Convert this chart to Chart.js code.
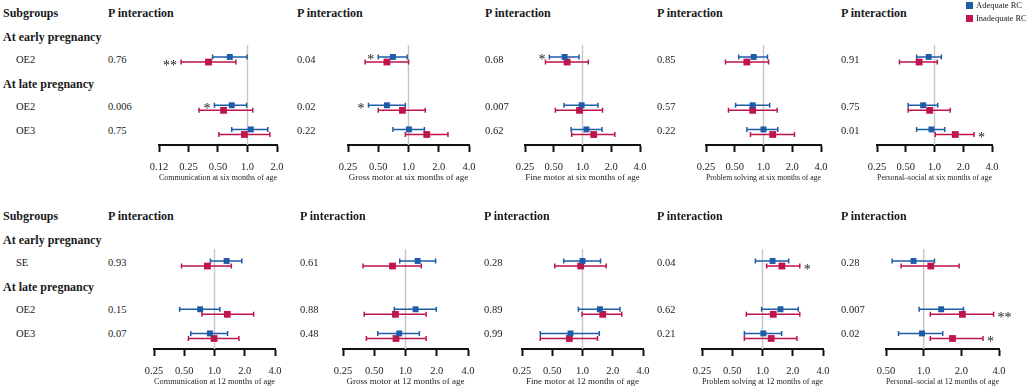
<!DOCTYPE html>
<html>
<head>
<meta charset="utf-8">
<script src="https://cdn.jsdelivr.net/npm/chart.js@4.4.1/dist/chart.umd.min.js"></script>
<style>
  body { margin: 0; width: 1026px; height: 390px; position: relative; overflow: hidden; background: #fff;
         font-family: "Liberation Serif", "Times New Roman", serif; color: #1a1a1a; }
  .txt { position: absolute; white-space: nowrap; transform: translateY(-50%); line-height: 1; }
  .hd { font-weight: bold; font-size: 12px; }
  .val { font-size: 10.5px; }
  .lg { font-size: 8.5px; }
  canvas { position: absolute; }
</style>
</head>
<body>
<script>
const ADEQ = '#1f5ca8';
const INAD = '#c0154c';

const tickValues = [0.125, 0.25, 0.5, 1, 2, 4];
const tickLabels = ['0.12', '0.25', '0.50', '1.0', '2.0', '4.0'];
const rowPos = [2, 4, 5];               // table row of each subgroup line

const groupsSix = ['OE2', 'OE2', 'OE3'];
const groupsTwelve = ['SE', 'OE2', 'OE3'];

const titlesSix = ['Communication at six months of age', 'Gross motor at six months of age',
  'Fine motor at six months of age', 'Problem solving at six months of age', 'Personal\u2013social at six months of age'];
const titlesTwelve = ['Communication at 12 months of age', 'Gross motor at 12 months of age',
  'Fine motor at 12 months of age', 'Problem solving at 12 months of age', 'Personal\u2013social at 12 months of age'];

const rangesSix = [[0.125, 2], [0.25, 4], [0.25, 4], [0.25, 4], [0.25, 4]];
const rangesTwelve = [[0.25, 4], [0.25, 4], [0.25, 4], [0.25, 4], [0.5, 4]];

const pSix = [['0.76', '0.006', '0.75'], ['0.04', '0.02', '0.22'], ['0.68', '0.007', '0.62'], ['0.85', '0.57', '0.22'], ['0.91', '0.75', '0.01']];
const pTwelve = [['0.93', '0.15', '0.07'], ['0.61', '0.88', '0.48'], ['0.28', '0.89', '0.99'], ['0.04', '0.62', '0.21'], ['0.28', '0.007', '0.02']];

// six months: adequate RC
const adqSix = [[0.66, 0.69, 1.08], [0.70, 0.61, 1.01], [0.65, 0.98, 1.10], [0.79, 0.77, 1.00], [0.87, 0.76, 0.93]];
const adqSixLo = [[0.44, 0.46, 0.69], [0.50, 0.40, 0.70], [0.45, 0.64, 0.76], [0.55, 0.51, 0.67], [0.65, 0.53, 0.65]];
const adqSixHi = [[0.99, 0.98, 1.61], [0.97, 0.93, 1.44], [0.92, 1.45, 1.60], [1.10, 1.16, 1.41], [1.18, 1.08, 1.28]];
const adqSixStars = [['', '*', ''], ['*', '*', ''], ['*', '', ''], ['', '', ''], ['', '', '']];
// six months: inadequate RC
const inSix = [[0.40, 0.57, 0.93], [0.61, 0.87, 1.52], [0.69, 0.93, 1.31], [0.67, 0.77, 1.25], [0.69, 0.89, 1.65]];
const inSixLo = [[0.21, 0.32, 0.51], [0.37, 0.50, 0.93], [0.41, 0.52, 0.77], [0.40, 0.43, 0.73], [0.43, 0.53, 1.02]];
const inSixHi = [[0.76, 1.13, 1.69], [1.00, 1.47, 2.47], [1.15, 1.62, 2.18], [1.13, 1.39, 2.11], [1.07, 1.46, 2.59]];
const inSixStars = [['**', '', ''], ['', '', ''], ['', '', ''], ['', '', ''], ['', '', '*']];

// 12 months: adequate RC
const adqTwelve = [[1.32, 0.72, 0.90], [1.31, 1.25, 0.87], [1.00, 1.49, 0.76], [1.26, 1.51, 1.02], [0.83, 1.38, 0.97]];
const adqTwelveLo = [[0.91, 0.45, 0.58], [0.88, 0.78, 0.54], [0.65, 0.91, 0.38], [0.85, 0.98, 0.66], [0.56, 0.92, 0.63]];
const adqTwelveHi = [[1.87, 1.13, 1.35], [1.95, 1.98, 1.36], [1.51, 2.36, 1.47], [1.82, 2.27, 1.55], [1.22, 2.08, 1.42]];
const adqTwelveStars = [['', '', ''], ['', '', ''], ['', '', ''], ['', '', ''], ['', '', '']];
// 12 months: inadequate RC
const inTwelve = [[0.85, 1.34, 0.99], [0.75, 0.80, 0.81], [0.96, 1.59, 0.74], [1.56, 1.28, 1.22], [1.14, 2.04, 1.70]];
const inTwelveLo = [[0.47, 0.75, 0.55], [0.39, 0.40, 0.42], [0.53, 0.99, 0.38], [1.10, 0.69, 0.66], [0.66, 1.13, 1.13]];
const inTwelveHi = [[1.47, 2.45, 1.75], [1.42, 1.58, 1.58], [1.72, 2.46, 1.41], [2.35, 2.35, 2.20], [1.92, 3.62, 2.98]];
const inTwelveStars = [['', '', ''], ['', '', ''], ['', '', ''], ['*', '', ''], ['', '**', '*']];

// layout of the page (pixels)
const axisXSix = [[159, 277], [348, 469], [525, 640], [706, 821], [877, 992]];
const axisXTwelve = [[154, 275], [343, 468], [522, 643], [702, 823], [886, 999]];
const pColSix = [108, 297, 485, 657, 841];
const pColTwelve = [108, 300, 484, 657, 841];

function addText(text, x, y, cls) {
  const d = document.createElement('div');
  d.className = 'txt ' + cls;
  d.style.left = x + 'px';
  d.style.top = y + 'px';
  d.textContent = text;
  document.body.appendChild(d);
  return d;
}

// whiskers, reference line at 1 and significance stars
const forestBars = {
  id: 'forestBars',
  beforeDatasetsDraw(chart) {
    const { ctx, chartArea, scales: { x, y } } = chart;
    ctx.save();
    const x1 = x.getPixelForValue(1);
    ctx.strokeStyle = '#c8c8c8';
    ctx.lineWidth = 1.5;
    ctx.beginPath();
    ctx.moveTo(x1, chartArea.top);
    ctx.lineTo(x1, chartArea.bottom);
    ctx.stroke();
    chart.data.datasets.forEach(ds => {
      ctx.strokeStyle = ds.borderColor;
      ctx.lineWidth = 1.5;
      ds.data.forEach((p, i) => {
        const py = y.getPixelForValue(p.y);
        const xl = x.getPixelForValue(ds.low[i]);
        const xh = x.getPixelForValue(ds.high[i]);
        ctx.beginPath();
        ctx.moveTo(xl, py); ctx.lineTo(xh, py);
        ctx.moveTo(xl, py - 2.5); ctx.lineTo(xl, py + 2.5);
        ctx.moveTo(xh, py - 2.5); ctx.lineTo(xh, py + 2.5);
        ctx.stroke();
      });
    });
    ctx.restore();
  },
  afterDatasetsDraw(chart) {
    const { ctx, scales: { x, y } } = chart;
    ctx.save();
    ctx.font = '14px "Liberation Serif"';
    ctx.fillStyle = '#1a1a1a';
    ctx.textBaseline = 'alphabetic';
    chart.data.datasets.forEach(ds => {
      ds.data.forEach((p, i) => {
        const s = ds.stars[i];
        if (!s) return;
        const py = y.getPixelForValue(p.y) + 7.5;
        if (p.x < 1) {
          ctx.textAlign = 'right';
          ctx.fillText(s, x.getPixelForValue(ds.low[i]) - 4, py);
        } else {
          ctx.textAlign = 'left';
          ctx.fillText(s, x.getPixelForValue(ds.high[i]) + 4, py);
        }
      });
    });
    ctx.restore();
  }
};

function series(label, color, or, lo, hi, stars, off, r) {
  return {
    label: label,
    data: or.map((v, k) => ({ x: v, y: rowPos[k] + off })),
    low: lo, high: hi, stars: stars,
    backgroundColor: color, borderColor: color, borderWidth: 0,
    pointStyle: 'rect', pointRadius: r, showLine: false
  };
}

function panel(axisX, axisY, range, title, adq, inad) {
  const pad = 25, padTop = 10, areaH = 100, axisH = 40;
  const cv = document.createElement('canvas');
  cv.width = axisX[1] - axisX[0] + 2 * pad;
  cv.height = padTop + areaH + axisH;
  cv.style.left = (axisX[0] - pad) + 'px';
  cv.style.top = (axisY - areaH - padTop) + 'px';
  document.body.appendChild(cv);

  new Chart(cv, {
    type: 'scatter',
    data: { datasets: [adq, inad] },
    options: {
      responsive: false,
      animation: false,
      events: [],
      layout: { padding: { left: pad, right: pad, top: padTop, bottom: 0 } },
      plugins: { legend: { display: false }, tooltip: { enabled: false } },
      scales: {
        y: { type: 'linear', display: false, reverse: true, min: 1.40, max: 5.54 },
        x: {
          type: 'logarithmic', min: range[0], max: range[1],
          afterBuildTicks: s => {
            s.ticks = tickValues.filter(v => v >= range[0] && v <= range[1]).map(v => ({ value: v }));
          },
          afterFit: s => { s.height = axisH; },
          border: { display: true, color: '#111', width: 2 },
          grid: { drawOnChartArea: false, drawTicks: true, tickLength: 7, tickColor: '#111', tickWidth: 2 },
          ticks: {
            autoSkip: false, maxRotation: 0, padding: 9, color: '#222',
            font: { family: 'Liberation Serif', size: 10.5 },
            callback: v => tickLabels[tickValues.indexOf(v)]
          },
          title: {
            display: true, text: title, color: '#222',
            font: { family: 'Liberation Serif', size: 9 },
            padding: { top: 0, bottom: 2 }
          }
        }
      }
    },
    plugins: [forestBars]
  });
}

function buildRow(top, groups, pCol, pVals, axisX, axisY, ranges, titles,
                  adq, adqLo, adqHi, adqStars, inad, inLo, inHi, inStars) {
  // left table
  const rowY = [top, top + 23.5, top + 47, top + 71, top + 94, top + 118];
  addText('Subgroups', 3, rowY[0], 'hd');
  addText('At early pregnancy', 3, rowY[1], 'hd');
  addText('At late pregnancy', 3, rowY[3], 'hd');
  groups.forEach((g, k) => addText(g, 16, rowY[rowPos[k]], 'val'));

  for (let i = 0; i < 5; i++) {
    addText('P interaction', pCol[i], rowY[0], 'hd');
    pVals[i].forEach((p, k) => addText(p, pCol[i], rowY[rowPos[k]], 'val'));
    panel(axisX[i], axisY, ranges[i], titles[i],
      series('Adequate RC', ADEQ, adq[i], adqLo[i], adqHi[i], adqStars[i], -0.105, 4.2),
      series('Inadequate RC', INAD, inad[i], inLo[i], inHi[i], inStars[i], 0.105, 4.8));
  }
}

buildRow(13, groupsSix, pColSix, pSix, axisXSix, 145, rangesSix, titlesSix,
  adqSix, adqSixLo, adqSixHi, adqSixStars, inSix, inSixLo, inSixHi, inSixStars);
buildRow(216, groupsTwelve, pColTwelve, pTwelve, axisXTwelve, 349, rangesTwelve, titlesTwelve,
  adqTwelve, adqTwelveLo, adqTwelveHi, adqTwelveStars, inTwelve, inTwelveLo, inTwelveHi, inTwelveStars);

// legend
[['Adequate RC', ADEQ, 5], ['Inadequate RC', INAD, 18]].forEach(([label, color, y]) => {
  const sq = document.createElement('div');
  sq.style.cssText = 'position:absolute;width:7px;height:7px;left:966px;top:' + (y - 3.5) + 'px;background:' + color;
  document.body.appendChild(sq);
  addText(label, 976, y, 'lg');
});
</script>
</body>
</html>
